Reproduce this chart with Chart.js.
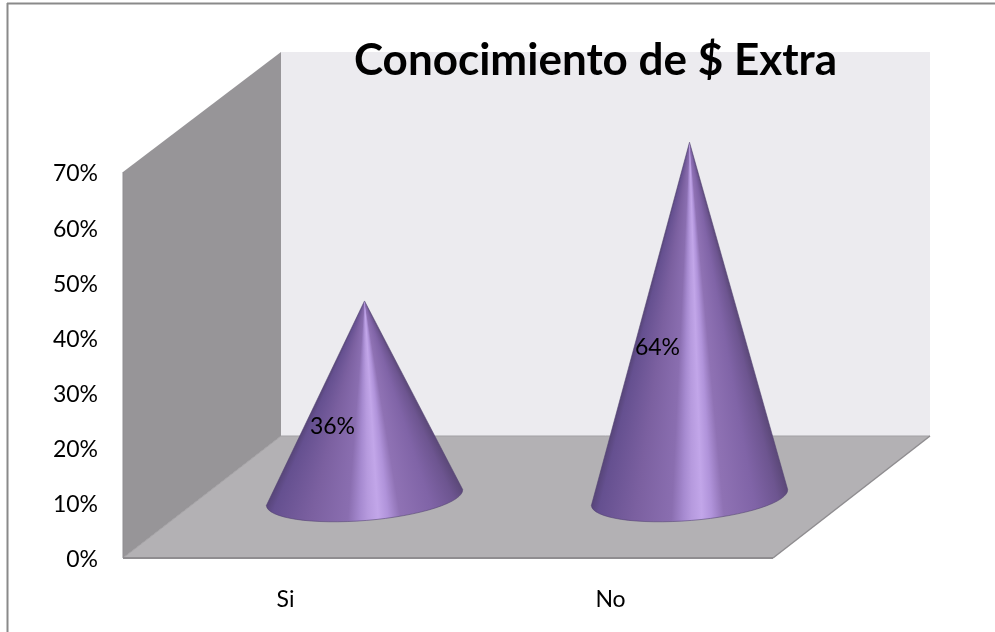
<!DOCTYPE html>
<html>
<head>
<meta charset="utf-8">
<title>Conocimiento de $ Extra</title>
<script src="https://cdn.jsdelivr.net/npm/chart.js@4/dist/chart.umd.min.js"></script>
<style>
  html, body { margin: 0; padding: 0; background: #fff; }
  canvas { display: block; }
</style>
</head>
<body>
<canvas id="cone-chart" width="995" height="632"></canvas>
<script>
// categories and values
var categories = ['Si', 'No'];
var respuestas = [0.36, 0.64];
var chartTitle = 'Conocimiento de $ Extra';

// look of the 3D box
var depthX = 158;
var depthY = 122;
var wallBack = '#ecebef';
var wallSide = '#979598';
var floorColor = '#b3b1b4';

// cone shading, left silhouette to right silhouette
var coneStops = [
    [0.00, '#574579'], [0.04, '#655090'], [0.22, '#7b60a0'], [0.40, '#8a6eb0'],
    [0.46, '#a68ad0'], [0.50, '#b69ade'], [0.55, '#c2a6e9'], [0.60, '#b093da'],
    [0.66, '#8f72b4'], [0.82, '#8064a7'], [0.94, '#6d5590'], [1.00, '#5b4878']
];

function fillPoly(ctx, pts, color) {
    ctx.beginPath();
    pts.forEach(function (p, i) {
        if (i === 0) ctx.moveTo(p[0], p[1]);
        else ctx.lineTo(p[0], p[1]);
    });
    ctx.closePath();
    ctx.fillStyle = color;
    ctx.fill();
}

function line(ctx, x1, y1, x2, y2, color, width) {
    ctx.beginPath();
    ctx.moveTo(x1, y1);
    ctx.lineTo(x2, y2);
    ctx.strokeStyle = color;
    ctx.lineWidth = width;
    ctx.stroke();
}

// outer frame, walls and floor go under everything else
var boxPlugin = {
    id: 'box3d',
    beforeDraw: function (chart) {
        var ctx = chart.ctx;
        var a = chart.chartArea;
        var backX = a.left + depthX;
        var backY = a.bottom - depthY;
        var wallTop = a.top - 120;

        ctx.save();
        fillPoly(ctx, [[0, 0], [995, 0], [995, 632], [0, 632]], '#ffffff');
        line(ctx, 7.5, 3, 7.5, 632, '#8a8a8a', 2);
        line(ctx, 7, 3.5, 995, 3.5, '#8a8a8a', 2);

        fillPoly(ctx, [[backX, wallTop], [a.right + depthX - 1, wallTop], [a.right + depthX - 1, backY], [backX, backY]], wallBack);
        fillPoly(ctx, [[a.left, a.top], [backX, wallTop], [backX, backY], [a.left, a.bottom]], wallSide);
        fillPoly(ctx, [[a.left, a.bottom], [a.right, a.bottom], [a.right + depthX - 1, backY], [backX, backY]], floorColor);

        line(ctx, backX, backY, a.right + depthX - 1, backY, '#a3a1a4', 1);
        line(ctx, a.left, a.bottom, backX, backY, '#a3a1a4', 1);
        line(ctx, a.right, a.bottom, a.right + depthX - 1, backY, '#8f8d90', 1.5);
        line(ctx, a.left, a.bottom, a.right, a.bottom, '#8f8d90', 2);
        line(ctx, a.left, a.top, a.left, a.bottom, '#8f8d90', 1);
        ctx.restore();
    },
    // the title sits over the back wall instead of the middle of the canvas
    afterLayout: function (chart) {
        chart.titleBlock.left = 196;
        chart.titleBlock.right = 995;
    }
};

// each bar of the dataset is painted as a cone standing mid-depth on the floor
var conePlugin = {
    id: 'cones',
    afterDatasetsDraw: function (chart) {
        var ctx = chart.ctx;
        var yScale = chart.scales.y;
        var meta = chart.getDatasetMeta(0);
        var unit = (yScale.getPixelForValue(0) - yScale.getPixelForValue(1)) * 1.028;
        var rx = 98.5;
        var ry = 23;
        var tilt = -0.082;

        meta.data.forEach(function (bar, i) {
            var value = respuestas[i];
            var cx = bar.x + depthX / 2;
            var baseY = yScale.bottom - 53;
            var cy = baseY - 7.5;
            var apexX = cx;
            var apexY = baseY - value * unit;
            var ex = rx * Math.cos(tilt);
            var ey = rx * Math.sin(tilt);
            var angR = Math.atan2(cy + ey - apexY, cx + ex - apexX);
            var angL = Math.atan2(cy - ey - apexY, cx - ex - apexX);
            var sweep = (angL - angR) / (2 * Math.PI);

            // shading follows the angle around the apex
            var grad = ctx.createConicGradient(angR, apexX, apexY);
            for (var s = coneStops.length - 1; s >= 0; s--) {
                grad.addColorStop((1 - coneStops[s][0]) * sweep, coneStops[s][1]);
            }
            grad.addColorStop(Math.min(1, sweep + 0.01), coneStops[0][1]);
            grad.addColorStop(1, coneStops[coneStops.length - 1][1]);

            ctx.save();
            ctx.beginPath();
            ctx.moveTo(apexX, apexY);
            ctx.lineTo(cx - ex, cy - ey);
            ctx.ellipse(cx, cy, rx, ry, tilt, Math.PI, 0, true);
            ctx.closePath();
            ctx.fillStyle = grad;
            ctx.fill();
            ctx.strokeStyle = 'rgba(80,64,112,0.55)';
            ctx.lineWidth = 1;
            ctx.stroke();
            ctx.restore();

            ctx.save();
            ctx.fillStyle = '#000';
            ctx.font = '23px Lato';
            ctx.textAlign = 'center';
            ctx.textBaseline = 'middle';
            ctx.fillText(Math.round(value * 100) + '%', cx - 32, (apexY + baseY) / 2 + 24);
            ctx.restore();
        });
    }
};

var coneChart = new Chart(document.getElementById('cone-chart'), {
    type: 'bar',
    data: {
        labels: categories,
        datasets: [{
            label: 'Conocimiento',
            data: respuestas,
            backgroundColor: 'rgba(0,0,0,0)',
            borderWidth: 0
        }]
    },
    options: {
        responsive: false,
        animation: false,
        layout: { padding: { top: 34, right: 222, bottom: 0, left: 0 } },
        plugins: {
            legend: { display: false },
            tooltip: { enabled: false },
            title: {
                display: true,
                text: chartTitle,
                color: '#000',
                font: { family: 'Lato', size: 44, weight: 'bold', lineHeight: 1.2 },
                padding: { top: 0, bottom: 85.2 }
            }
        },
        scales: {
            x: {
                grid: { display: false, drawTicks: false },
                border: { display: false },
                ticks: {
                    color: '#000',
                    padding: 28,
                    font: { family: 'Lato', size: 23 }
                },
                afterFit: function (scale) { scale.height = 74; }
            },
            y: {
                min: 0,
                max: 0.7,
                grid: { display: false, drawTicks: false },
                border: { display: false },
                ticks: {
                    stepSize: 0.1,
                    color: '#000',
                    padding: 25,
                    labelOffset: 2,
                    font: { family: 'Lato', size: 23 },
                    callback: function (v) { return Math.round(v * 100) + '%'; }
                },
                afterFit: function (scale) { scale.width = 123; }
            }
        }
    },
    plugins: [boxPlugin, conePlugin]
});
</script>
</body>
</html>
